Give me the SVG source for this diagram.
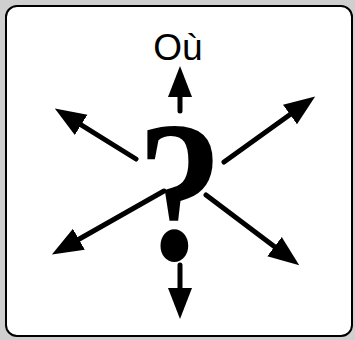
<svg xmlns="http://www.w3.org/2000/svg" width="355" height="340" viewBox="0 0 355 340">
<style>
.ar{stroke:#000;stroke-width:5;stroke-linecap:round;fill:none;marker-end:url(#h)}
.lbl{font-family:"Liberation Sans",Arial,sans-serif;font-size:37px;fill:#000;text-anchor:middle}
.q{font-family:"Liberation Serif","Times New Roman",serif;font-weight:bold;font-size:202px;fill:#000;text-anchor:middle}
</style>
<defs>
<marker id="h" markerUnits="userSpaceOnUse" markerWidth="32" markerHeight="26" viewBox="0 0 32 26" refX="1" refY="13" orient="auto">
<path d="M0,1 L31,13 L0,25 Z" fill="#000"/>
</marker>
</defs>
<rect width="355" height="340" fill="#cfcfcf"/>
<g id="panel"><rect x="6" y="6" width="346" height="330" rx="11" fill="#fff" stroke="#000" stroke-width="2"/></g>
<g id="label"><text class="lbl" x="178" y="60">Où</text></g>
<g id="question"><text class="q" x="180" y="259" transform="translate(180 0) scale(0.85 1) translate(-180 0)">?</text></g>
<g id="connectors">
<line class="ar" x1="180" y1="111" x2="180" y2="96"/>
<line class="ar" x1="180" y1="265" x2="180" y2="289"/>
<line class="ar" x1="136" y1="159" x2="80.3" y2="124.3"/>
<line class="ar" x1="224" y1="162" x2="290.8" y2="114"/>
<line class="ar" x1="164" y1="191" x2="78" y2="239.7"/>
<line class="ar" x1="206" y1="195" x2="275.3" y2="247.3"/>
</g>
</svg>
